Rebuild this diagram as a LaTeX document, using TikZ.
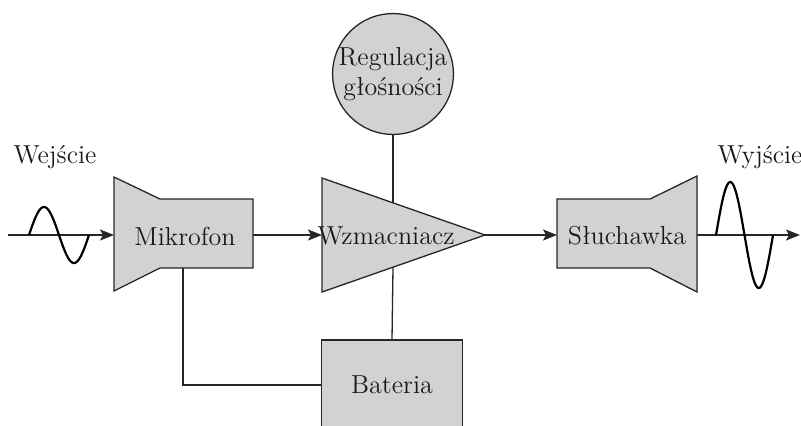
\documentclass[tikz,border=0pt]{standalone}
\usetikzlibrary{arrows.meta}
\begin{document}
\begin{tikzpicture}[x=0.5pt,y=-0.5pt,
  every node/.style={font=\fontsize{13}{15}\selectfont, text=black!90},
  shp/.style={draw=black!85, fill=gray!35, line width=0.65pt, line join=miter},
  wire/.style={draw=black!85, line width=0.65pt},
  arr/.style={wire, -{Stealth[length=7pt,width=5.5pt,inset=1.5pt]}},
  wave/.style={draw=black, line width=1.1pt}]
\useasboundingbox (0,0) rectangle (801,425);
% Mikrofon
\path[shp] (114,177) -- (160,199) -- (253,199) -- (253,268) -- (160,268) -- (114,291) -- cycle;
\node (mik) at (185,236) {Mikrofon};
\coordinate (mikL) at (114,235);
\coordinate (mikR) at (253,235);
\coordinate (mikB) at (183,268);
% Amplifier
\path[shp] (322,178) -- (485,235) -- (322,292) -- cycle;
\node (amp) at (386,236) {Wzmacniacz};
\coordinate (ampL) at (322,235);
\coordinate (ampR) at (485,235);
\coordinate (ampT) at (393,203);
\coordinate (ampB) at (393,267);
% Sluchawka
\path[shp] (697,176) -- (650,199) -- (557,199) -- (557,268) -- (650,268) -- (697,292) -- cycle;
\node (slu) at (627,236) {Słuchawka};
\coordinate (sluL) at (557,235);
\coordinate (sluR) at (697,235);
% Regulacja
\node[shp, circle, minimum size=58pt, inner sep=0pt, align=center] (reg) at (393,74) {Regulacja\\głośności};
% Bateria
\node[shp, rectangle, minimum width=70.5pt, minimum height=45pt, inner sep=0pt] (bat) at (392,385) {Bateria};
% connectors
\coordinate (in) at (8,235);
\coordinate (out) at (800,235);
\draw[arr] (in) -- (mikL);
\draw[arr] (mikR) -- (ampL);
\draw[arr] (ampR) -- (sluL);
\draw[arr] (sluR) -- (out);
\draw[wire] (reg.south) -- (ampT);
\draw[wire] (ampB) -- (bat.north);
\draw[wire] (mikB) |- (bat.west);
% waves
\draw[wave] plot[domain=0:360, samples=80] ({29+\x/6}, {235-28*sin(\x)});
\draw[wave] plot[domain=0:360, samples=80] ({716+\x*0.158333}, {235-53*sin(\x)});
% labels
\node (win) at (55,157) {Wejście};
\node (wout) at (760,157) {Wyjście};
\end{tikzpicture}
\end{document}
